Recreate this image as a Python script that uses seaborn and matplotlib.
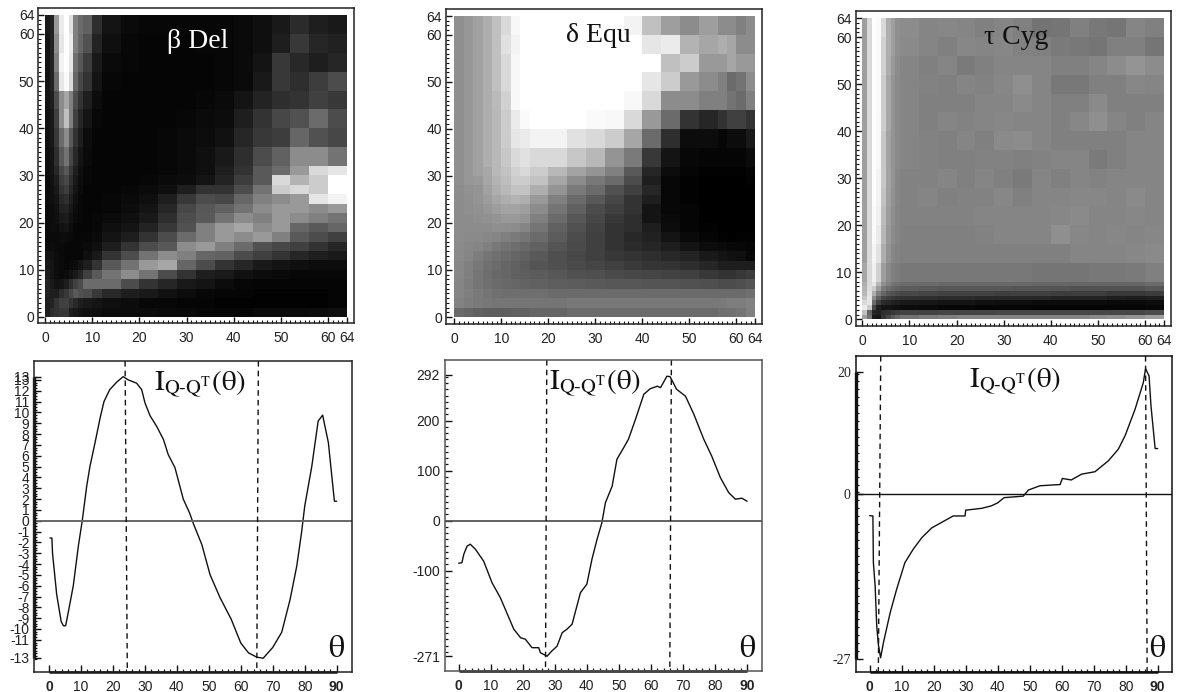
import numpy as np
import pandas as pd
import matplotlib
matplotlib.use("Agg")
import matplotlib.pyplot as plt
import seaborn as sns

sns.set_theme(style="white")
plt.rcParams["font.family"] = ["Liberation Sans", "DejaVu Sans"]
plt.rcParams["mathtext.fontset"] = "stix"
W, H = 1177, 692

# ---- block sizes of the estimated grey maps (cells of the 64 x 64 histogram)
beta_cols = [1]*8 + [2]*2 + [4]*13
beta_rows = [4]*8 + [2]*16
delta_cols = [2]*8 + [4]*10 + [2]*4
delta_rows = [4]*8 + [2]*16
tau_cols = [1]*8 + [4]*14
tau_rows = [4]*14 + [1]*8

beta_map = [
 [.10,.14,.60,.92,1.0,.88,.50,.42,.38,.18,.08,.04,.03,.03,.03,.03,.03,.04,.06,.10,.17,.12,.10],
 [.08,.14,.55,.90,1.0,.92,.50,.40,.32,.14,.06,.03,.02,.02,.02,.03,.03,.04,.06,.12,.22,.15,.13],
 [.08,.14,.50,.95,1.0,.90,.44,.34,.24,.10,.04,.03,.02,.02,.02,.02,.03,.04,.08,.22,.16,.12,.15],
 [.08,.14,.42,.90,.98,.85,.40,.28,.20,.08,.03,.02,.02,.02,.02,.02,.03,.04,.10,.22,.18,.24,.30],
 [.08,.12,.30,.55,.65,.50,.30,.20,.12,.05,.02,.02,.02,.02,.02,.03,.04,.08,.14,.18,.20,.25,.22],
 [.07,.10,.25,.55,.75,.50,.25,.15,.08,.03,.02,.02,.02,.02,.03,.04,.05,.12,.20,.28,.32,.42,.30],
 [.07,.10,.22,.42,.55,.35,.20,.12,.05,.02,.02,.02,.02,.03,.04,.05,.07,.15,.22,.24,.40,.32,.28],
 [.06,.08,.18,.35,.45,.28,.16,.08,.04,.02,.02,.02,.02,.03,.04,.06,.10,.18,.30,.38,.55,.55,.45],
 [.06,.08,.15,.28,.34,.22,.12,.06,.03,.02,.02,.02,.02,.03,.04,.06,.12,.20,.35,.42,.60,.85,.90],
 [.05,.07,.12,.24,.28,.18,.10,.05,.03,.02,.02,.02,.03,.04,.05,.08,.14,.24,.35,.85,.70,.80,1.0],
 [.05,.06,.10,.20,.24,.15,.08,.04,.02,.02,.02,.03,.04,.06,.12,.20,.20,.30,.45,.80,.85,.80,1.0],
 [.05,.06,.08,.16,.18,.12,.06,.03,.02,.02,.03,.04,.06,.12,.22,.30,.28,.40,.50,.55,.60,.90,.95],
 [.04,.05,.07,.13,.14,.09,.05,.03,.02,.02,.03,.05,.08,.15,.28,.34,.38,.45,.55,.60,.60,.55,.60],
 [.04,.05,.06,.10,.11,.07,.04,.03,.02,.03,.04,.06,.10,.18,.30,.35,.45,.55,.50,.60,.55,.50,.45],
 [.04,.05,.05,.07,.08,.05,.03,.02,.02,.03,.06,.08,.14,.22,.32,.50,.60,.65,.55,.60,.40,.35,.40],
 [.04,.04,.04,.05,.05,.04,.03,.03,.03,.04,.08,.12,.20,.30,.42,.50,.60,.55,.60,.50,.35,.30,.25],
 [.05,.05,.04,.04,.03,.03,.03,.03,.04,.06,.12,.20,.30,.35,.55,.60,.50,.42,.32,.28,.25,.20,.15],
 [.08,.07,.05,.04,.03,.03,.03,.03,.06,.10,.20,.30,.45,.55,.50,.40,.38,.30,.25,.20,.15,.12,.10],
 [.10,.08,.05,.04,.03,.04,.05,.08,.12,.20,.35,.45,.60,.65,.40,.30,.20,.15,.10,.08,.06,.05,.05],
 [.12,.08,.05,.04,.05,.07,.10,.15,.25,.35,.45,.55,.45,.30,.20,.12,.10,.07,.05,.04,.03,.03,.03],
 [.14,.10,.07,.08,.12,.18,.25,.30,.42,.42,.42,.30,.20,.15,.10,.08,.05,.03,.02,.02,.02,.02,.02],
 [.14,.12,.12,.18,.22,.28,.35,.32,.30,.22,.16,.12,.10,.07,.05,.03,.02,.02,.01,.01,.01,.01,.02],
 [.12,.14,.20,.25,.25,.20,.16,.12,.10,.08,.06,.05,.03,.03,.02,.02,.01,.01,.01,.01,.01,.01,.02],
 [.12,.18,.20,.22,.22,.12,.10,.08,.07,.06,.05,.05,.05,.04,.04,.03,.03,.03,.04,.04,.04,.05,.06],
]

delta_map = [
 [.56,.59,.63,.68,.75,.85,.97,1.0,1.0,1.0,1.0,1.0,1.0,.95,.75,.62,.55,.62,.55,.55,.50,.55],
 [.56,.59,.63,.68,.75,.88,.95,1.0,1.0,1.0,1.0,1.0,1.0,1.0,.90,.92,.70,.65,.68,.65,.55,.55],
 [.56,.59,.63,.68,.75,.85,.97,1.0,1.0,1.0,1.0,1.0,1.0,1.0,1.0,.75,.80,.60,.60,.65,.60,.60],
 [.56,.59,.63,.68,.75,.85,.97,1.0,1.0,1.0,1.0,1.0,1.0,1.0,.90,.80,.60,.55,.50,.42,.45,.55],
 [.56,.59,.63,.68,.73,.82,.97,1.0,1.0,1.0,1.0,1.0,1.0,.97,.85,.55,.55,.50,.50,.45,.42,.50],
 [.56,.59,.63,.68,.72,.80,.92,.98,1.0,1.0,1.0,.98,.97,.85,.60,.42,.20,.15,.20,.25,.25,.20],
 [.56,.59,.63,.68,.72,.80,.90,.92,.95,.95,.88,.85,.80,.65,.42,.18,.05,.05,.03,.05,.05,.10],
 [.56,.59,.63,.68,.72,.78,.85,.88,.85,.85,.78,.72,.58,.48,.22,.08,.03,.02,.02,.02,.02,.05],
 [.56,.59,.63,.66,.72,.76,.82,.85,.80,.72,.64,.58,.50,.35,.15,.05,.02,.01,.01,.01,.01,.02],
 [.56,.59,.60,.65,.70,.74,.80,.80,.76,.65,.55,.47,.42,.30,.12,.03,.01,.00,.00,.00,.00,.01],
 [.55,.57,.58,.63,.68,.72,.76,.76,.68,.58,.48,.42,.32,.25,.15,.03,.01,.00,.00,.00,.00,.00],
 [.55,.56,.58,.61,.65,.68,.70,.68,.60,.50,.42,.35,.28,.20,.12,.03,.01,.00,.00,.00,.00,.00],
 [.55,.56,.57,.59,.62,.64,.64,.62,.55,.46,.38,.30,.25,.20,.08,.03,.02,.00,.00,.00,.00,.00],
 [.55,.55,.56,.57,.58,.60,.60,.58,.50,.42,.34,.28,.22,.18,.08,.04,.02,.00,.00,.00,.00,.00],
 [.55,.55,.55,.55,.56,.56,.55,.52,.46,.38,.32,.26,.20,.18,.12,.05,.02,.01,.00,.00,.00,.00],
 [.55,.54,.54,.53,.52,.50,.48,.46,.42,.36,.30,.25,.20,.16,.13,.08,.04,.02,.01,.00,.01,.01],
 [.54,.53,.52,.50,.47,.45,.43,.41,.38,.33,.29,.25,.20,.17,.15,.12,.08,.05,.04,.03,.03,.02],
 [.54,.52,.49,.46,.44,.42,.40,.38,.35,.31,.28,.25,.22,.20,.18,.16,.14,.10,.08,.07,.06,.03],
 [.53,.50,.47,.44,.42,.40,.38,.36,.33,.31,.29,.27,.25,.23,.21,.20,.18,.15,.12,.12,.12,.12],
 [.53,.50,.46,.43,.41,.40,.38,.37,.36,.34,.32,.31,.29,.28,.27,.26,.25,.22,.20,.20,.22,.24],
 [.52,.49,.46,.44,.42,.41,.40,.39,.38,.37,.36,.35,.34,.34,.33,.33,.32,.31,.30,.30,.31,.33],
 [.52,.50,.48,.46,.44,.43,.43,.43,.43,.42,.42,.42,.42,.42,.42,.42,.42,.42,.42,.42,.42,.44],
 [.51,.49,.48,.47,.46,.46,.46,.46,.46,.46,.47,.47,.47,.47,.47,.47,.47,.47,.48,.49,.49,.51],
 [.42,.40,.38,.37,.37,.37,.38,.38,.40,.40,.42,.42,.42,.42,.42,.42,.42,.42,.44,.44,.46,.50],
]

tau_map = [
 [.62,.85,1.0,.98,.85,.68,.62,.56,.55,.52,.53,.52,.50,.52,.50,.45,.46,.50,.47,.46,.52,.50],
 [.62,.85,1.0,.98,.82,.68,.62,.56,.54,.52,.50,.53,.52,.53,.51,.50,.48,.47,.46,.50,.50,.46],
 [.62,.85,1.0,.98,.82,.68,.60,.55,.52,.50,.52,.48,.50,.52,.52,.52,.50,.50,.52,.55,.58,.55],
 [.62,.85,1.0,.98,.80,.66,.58,.54,.52,.51,.50,.52,.51,.53,.56,.52,.47,.47,.50,.50,.53,.52],
 [.62,.85,1.0,.98,.80,.66,.58,.54,.52,.50,.50,.50,.52,.52,.54,.52,.50,.50,.54,.50,.50,.50],
 [.62,.85,1.0,.97,.80,.66,.58,.54,.52,.50,.52,.51,.52,.53,.52,.52,.50,.53,.56,.52,.50,.52],
 [.62,.85,1.0,.97,.78,.64,.58,.54,.52,.51,.50,.52,.50,.54,.55,.52,.50,.50,.50,.50,.52,.52],
 [.62,.85,1.0,.97,.78,.64,.58,.54,.52,.51,.50,.50,.51,.51,.50,.51,.52,.52,.48,.50,.52,.52],
 [.62,.85,.99,.95,.78,.64,.58,.53,.51,.51,.52,.50,.52,.50,.48,.52,.50,.52,.51,.52,.52,.52],
 [.62,.85,.99,.95,.76,.63,.57,.53,.51,.52,.50,.51,.51,.53,.50,.52,.52,.53,.53,.52,.54,.52],
 [.62,.85,.98,.94,.74,.62,.56,.52,.51,.51,.51,.51,.52,.52,.52,.52,.53,.54,.52,.52,.53,.52],
 [.62,.85,.98,.92,.72,.60,.55,.52,.50,.50,.50,.50,.51,.52,.52,.52,.56,.53,.52,.53,.52,.53],
 [.62,.85,.96,.88,.68,.58,.53,.51,.50,.50,.50,.50,.50,.50,.50,.50,.50,.52,.52,.52,.53,.54],
 [.65,.85,.94,.82,.62,.54,.50,.49,.47,.47,.47,.47,.47,.47,.47,.46,.46,.46,.47,.47,.48,.50],
 [.68,.85,.90,.72,.56,.50,.46,.44,.42,.42,.41,.41,.41,.41,.41,.40,.40,.40,.40,.40,.40,.42],
 [.70,.86,.80,.62,.48,.43,.40,.38,.36,.35,.34,.34,.34,.34,.33,.33,.33,.32,.32,.32,.32,.34],
 [.72,.88,.68,.50,.40,.34,.32,.30,.28,.27,.26,.26,.26,.25,.25,.25,.24,.24,.24,.22,.22,.24],
 [.78,.90,.55,.38,.28,.24,.22,.20,.19,.18,.17,.17,.16,.16,.16,.15,.14,.14,.14,.12,.11,.12],
 [.85,.90,.42,.25,.17,.15,.13,.12,.10,.09,.08,.08,.07,.06,.06,.05,.05,.05,.05,.04,.04,.05],
 [.92,.80,.28,.12,.08,.08,.07,.06,.05,.04,.03,.03,.02,.02,.02,.02,.02,.02,.02,.02,.02,.03],
 [.75,.40,.15,.12,.18,.20,.22,.24,.26,.26,.27,.27,.27,.28,.28,.28,.28,.28,.28,.28,.28,.30],
 [.62,.45,.10,.08,.20,.28,.35,.40,.45,.48,.50,.52,.52,.52,.52,.52,.52,.52,.54,.56,.58,.62],
]

heat_ticks = [0, 10, 20, 30, 40, 50, 60, 64]

# ---- curves
beta_theta = [0.3,0.9,1.1,2.4,3.8,4.5,5.2,6.0,7.6,9.2,10.4,11.8,12.8,14.4,16.0,17.2,19.0,21.2,23.2,24.8,27.4,29.0,30.0,31.6,33.7,35.8,37.3,39.4,42.0,44.0,45.2,47.8,50.4,53.5,57.0,60.0,62.4,65.0,67.0,70.0,72.8,75.4,77.5,79.0,80.0,82.2,84.2,85.6,87.4,89.0,89.3,90.0]
beta_curve = [-1.6,-1.6,-3.0,-6.8,-9.3,-9.7,-9.7,-8.5,-6.0,-2.3,0.0,3.2,5.0,7.2,9.5,11.0,12.1,12.8,13.3,13.0,12.7,12.1,10.9,9.7,8.7,7.5,6.1,4.9,2.0,0.7,-0.3,-2.2,-5.0,-7.1,-9.1,-11.3,-12.2,-12.6,-12.7,-11.7,-10.3,-7.3,-4.2,-1.1,1.35,5.0,9.2,9.75,7.2,2.6,1.8,1.8]
delta_theta = [0.0,1.0,1.6,2.6,3.6,5.2,7.8,10.4,13.0,15.0,17.2,19.3,20.8,22.9,25.0,25.5,27.6,29.0,30.7,32.3,33.8,35.4,38.0,40.0,41.6,43.2,44.7,45.8,47.9,49.4,51.5,53.0,55.2,57.8,59.8,62.0,63.0,65.0,66.0,68.0,70.8,73.4,76.5,79.0,81.7,84.3,86.4,88.4,90.0]
delta_curve = [-85,-84,-67,-51,-47,-57,-81,-124,-154,-184,-217,-234,-237,-254,-254,-264,-271,-261,-251,-224,-217,-207,-144,-127,-77,-37,-4,36,69,123,146,163,203,253,264,269,266,289,288,263,249,213,163,129,86,56,43,45,39]
tau_theta = [0.0,1.0,1.15,1.7,2.2,2.7,3.4,4.3,6.4,8.4,11.0,13.6,16.3,19.4,22.5,26.1,29.8,30.0,35.0,38.0,40.0,42.0,48.0,49.6,53.2,59.5,60.2,63.0,66.2,70.4,74.6,77.7,79.8,82.9,85.5,86.2,87.3,87.9,89.2,90.0]
tau_curve = [-3.5,-3.55,-11.2,-15.0,-21.6,-24.6,-26.8,-24.3,-19.4,-15.6,-11.2,-9.0,-7.1,-5.5,-4.6,-3.55,-3.55,-2.6,-2.3,-1.9,-1.4,-0.55,-0.3,0.7,1.4,1.6,2.6,2.35,3.3,3.7,5.5,7.4,9.6,13.9,18.3,20.6,19.4,14.5,7.5,7.5]

beta_marks = [[23.8, 24.5], [65.5, 65.0]]
delta_marks = [[27.5, 27.1], [66.4, 65.9]]
tau_marks = [[3.45, 2.7], [86.2, 86.7]]

beta_yticks = [13.3, 13, 12, 11, 10, 9, 8, 7, 6, 5, 4, 3, 2, 1, 0, -1, -2, -3, -4, -5, -6, -7, -8, -9, -10, -11, -12.65]
beta_ylabels = ["13", "13", "12", "11", "10", "9", "8", "7", "6", "5", "4", "3", "2", "1", "0", "-1", "-2", "-3", "-4", "-5", "-6", "-7", "-8", "-9", "-10", "-11", "-13"]
delta_yticks = [292, 200, 100, 0, -100, -271]
tau_yticks = [20, 0, -27]
theta_ticks = list(range(0, 100, 10))


def add_axes_px(x0, x1, y0, y1):
    return fig.add_axes([x0 / W, 1 - y1 / H, (x1 - x0) / W, (y1 - y0) / H])


def heat(values, cols, rows, frame, data, title, title_xy, tcolor):
    x0, x1, y0, y1 = frame
    dx0, dx1, dy0, dy1 = data
    cells = np.repeat(np.repeat(np.array(values, float), rows, axis=0), cols, axis=1)
    ax = add_axes_px(x0, x1, y0, y1)
    sns.heatmap(cells, ax=ax, cmap="gray", vmin=0, vmax=1, cbar=False,
                xticklabels=False, yticklabels=False, square=False, rasterized=True)
    sx, sy = (dx1 - dx0) / 64, (dy1 - dy0) / 64
    ax.set_xlim((x0 - dx0) / sx, (x1 - dx0) / sx)
    ax.set_ylim((y1 - dy0) / sy, (y0 - dy0) / sy)
    ax.set_xticks(heat_ticks, [str(t) for t in heat_ticks])
    ax.set_yticks([64 - t for t in heat_ticks], [str(t) for t in heat_ticks])
    ax.set_xticks(np.arange(0, 65), minor=True)
    ax.set_yticks(np.arange(0, 65), minor=True)
    ax.tick_params(axis="both", which="major", direction="in", length=4.2, width=1.0,
                   color="#111111", labelsize=10, labelcolor="#222222",
                   bottom=True, left=True, top=False, right=False)
    ax.tick_params(axis="x", which="major", pad=5.5)
    ax.tick_params(axis="y", which="major", pad=3, labelrotation=0)
    ax.tick_params(axis="both", which="minor", direction="in", length=1.9, width=0.8,
                   color="#111111", bottom=True, left=True, top=False, right=False)
    for s in ax.spines.values():
        s.set_visible(True)
        s.set_color("#222222")
        s.set_linewidth(1.1)
    fig.text(title_xy[0] / W, 1 - title_xy[1] / H, title, color=tcolor, ha="center", va="center",
             fontsize=20, family=["Liberation Serif", "DejaVu Serif"])
    return ax


def curve(theta, values, marks, frame, zero_px, scale, yticks, ylabels, minor, label_xy, theta_x,
          frame_col, zero_col, zero_lw, y_serif=False, axis_span=None):
    x0, x1, y0, y1 = frame
    ax = add_axes_px(x0, x1, y0, y1)
    table = pd.DataFrame({"theta": theta, "value": values})
    sns.lineplot(data=table, x="theta", y="value", ax=ax, estimator=None, sort=False,
                 color="#111111", linewidth=1.0)
    px0, px90 = theta_x
    s = (px90 - px0) / 90
    ax.set_xlim((x0 - px0) / s, (x1 - px0) / s)
    ax.set_ylim((zero_px - y1) / scale, (zero_px - y0) / scale)
    ylo, yhi = ax.get_ylim()
    ax.axhline(0, color=zero_col, lw=zero_lw)
    for m in marks:
        ax.plot(m, [yhi, ylo], color="#111111", lw=1.0, dashes=(4, 3))
    ax.set_xlabel("")
    ax.set_ylabel("")
    ax.set_xticks(theta_ticks, [str(t) for t in theta_ticks])
    ax.set_yticks(yticks, ylabels)
    ax.set_xticks(np.arange(0, 90.5, 2), minor=True)
    ax.set_yticks(minor, minor=True)
    ax.tick_params(axis="both", which="major", direction="in", length=5, width=1.0,
                   color="#111111", labelsize=10, labelcolor="#222222",
                   bottom=True, left=True, top=False, right=False)
    ax.tick_params(axis="x", which="major", pad=6)
    ax.tick_params(axis="y", which="major", pad=3.5)
    ax.tick_params(axis="both", which="minor", direction="in", length=2, width=0.9,
                   color="#111111", bottom=True, left=True, top=False, right=False)
    for lab in ax.get_xticklabels():
        if lab.get_text() in ("0", "90"):
            lab.set_fontweight("bold")
    if y_serif:
        for lab in ax.get_yticklabels():
            lab.set_family(["Liberation Serif", "DejaVu Serif"])
    for sp in ax.spines.values():
        sp.set_visible(True)
        sp.set_color(frame_col)
        sp.set_linewidth(1.1)
    ax.plot([0, 90], [0, 0], transform=ax.get_xaxis_transform(), color="#111111", lw=1.8,
            clip_on=False, solid_capstyle="butt")
    if axis_span is not None:
        ax.plot([0, 0], axis_span, transform=ax.get_yaxis_transform(), color="#111111", lw=2.4,
                clip_on=False, solid_capstyle="butt")
    fig.text(label_xy[0] / W, 1 - label_xy[1] / H,
             r"$\mathrm{I}_{\mathrm{Q}\text{-}\mathrm{Q}^{\mathrm{T}}}(\mathrm{\theta})$",
             color="#111111", ha="center", va="center", fontsize=21)
    fig.text(px90 / W, 1 - 649 / H, r"$\mathrm{\theta}$", color="#111111", ha="center", va="center", fontsize=23)
    return ax


fig = plt.figure(figsize=(W / 100, H / 100), dpi=100, facecolor="white")

heat(beta_map, beta_cols, beta_rows, (38.5, 354, 7.5, 323), (45, 347, 15, 317), "β Del", (198, 42), "white")
heat(delta_map, delta_cols, delta_rows, (446.3, 762, 9, 324), (454.3, 755.3, 16, 317), "δ Equ", (598.7, 35), "#111111")
heat(tau_map, tau_cols, tau_rows, (856, 1171, 11, 326), (862.3, 1164, 18.3, 319.3), "τ Cyg", (1015.7, 37), "#111111")

curve(beta_theta, beta_curve, beta_marks, (34.3, 351.7, 361, 672), 520.7, 10.83,
      beta_yticks, beta_ylabels, np.arange(-12.75, 13.3, 0.25), (200, 384), (49, 336.7),
      "#222222", "#666666", 1.4, axis_span=[-12.65, 13.3])
curve(delta_theta, delta_curve, delta_marks, (444.7, 762, 360, 671), 520.7, 0.5,
      delta_yticks, [str(t) for t in delta_yticks], np.arange(-262.5, 290, 12.5), (595, 383), (458.7, 747),
      "#555555", "#555555", 1.3)
curve(tau_theta, tau_curve, tau_marks, (855.7, 1172, 356, 672), 494.3, 6.1,
      tau_yticks, [str(t) for t in tau_yticks], np.arange(-27, 20.5, 1.3), (1015, 381), (869.7, 1157.7),
      "#111111", "#111111", 1.0, y_serif=True, axis_span=[-27, 20])

fig.savefig("out.png", dpi=100, facecolor="white")
